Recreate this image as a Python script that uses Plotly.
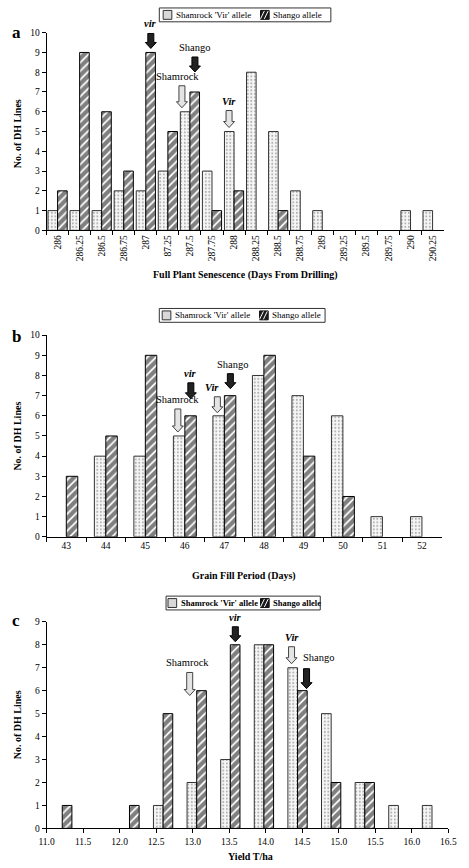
import plotly.graph_objects as go

# ---------------- data ----------------
sen_cats = ["286", "286.25", "286.5", "286.75", "287", "87.25", "287.5", "287.75", "288",
            "288.25", "288.5", "288.75", "289", "289.25", "289.5", "289.75", "290", "290.25"]
sen_shamrock = [1, 1, 1, 2, 2, 3, 6, 3, 5, 8, 5, 2, 1, 0, 0, 0, 1, 1]
sen_shango = [2, 9, 6, 3, 9, 5, 7, 1, 2, 0, 1, 0, 0, 0, 0, 0, 0, 0]

gfp_cats = ["43", "44", "45", "46", "47", "48", "49", "50", "51", "52"]
gfp_shamrock = [0, 4, 4, 5, 6, 8, 7, 6, 1, 1]
gfp_shango = [3, 5, 9, 6, 7, 9, 4, 2, 0, 0]

yield_bins = [11.215, 11.675, 12.135, 12.595, 13.055, 13.515, 13.975, 14.435, 14.895, 15.355, 15.815, 16.275]
yield_shamrock = [0, 0, 0, 1, 2, 3, 8, 7, 5, 2, 1, 1]
yield_shango = [1, 0, 1, 5, 6, 8, 8, 6, 2, 2, 0, 0]

legend_names = ["Shamrock 'Vir' allele", "Shango allele"]

# ---------------- layout helpers ----------------
W, H = 469, 868
FONT = "Liberation Serif"


def px_x(p):
    return p / W


def px_y(p):
    return 1 - p / H


def nz(vals):
    return [v if v else None for v in vals]


pat_sham = dict(shape=".", fgcolor="#6a6a6a", bgcolor="#f6f6f6", size=3.5, solidity=0.25)
pat_shan = dict(shape="/", fgcolor="#000000", bgcolor="#ffffff", size=6, solidity=0.7)

fig = go.Figure()

panels = [
    (sen_cats, sen_shamrock, sen_shango, "", 0.435),
    (gfp_cats, gfp_shamrock, gfp_shango, "2", 0.29),
    (yield_bins, yield_shamrock, yield_shango, "3", 0.132),
]
for xs, sham, shan, sfx, bw in panels:
    fig.add_trace(go.Bar(x=xs, y=nz(sham), name=legend_names[0], width=bw, offset=-bw,
                         marker=dict(pattern=pat_sham, line=dict(color="#333", width=1)),
                         xaxis="x" + sfx, yaxis="y" + sfx, showlegend=False))
    fig.add_trace(go.Bar(x=xs, y=nz(shan), name=legend_names[1], width=bw, offset=0,
                         marker=dict(pattern=pat_shan, line=dict(color="#000", width=1)),
                         xaxis="x" + sfx, yaxis="y" + sfx, showlegend=False))

axis_common = dict(showline=True, linecolor="black", linewidth=1, ticks="outside",
                   ticklen=4, tickcolor="black", showgrid=False, zeroline=False,
                   tickfont=dict(family=FONT, size=9.5, color="black"))

layout = dict(
    width=W, height=H, margin=dict(l=0, r=0, t=0, b=0),
    paper_bgcolor="white", plot_bgcolor="white", showlegend=False,
    font=dict(family=FONT, color="black"),
    xaxis=dict(domain=[px_x(40), px_x(452)], anchor="y", type="category",
               tickson="boundaries", tickangle=-90, range=[-0.5, 17.5], **axis_common),
    yaxis=dict(domain=[px_y(228), px_y(28)], anchor="x", range=[0, 10], dtick=1, **axis_common),
    xaxis2=dict(domain=[px_x(40), px_x(450)], anchor="y2", type="category",
                tickson="boundaries", tickangle=0, range=[-0.5, 9.5], **axis_common),
    yaxis2=dict(domain=[px_y(538), px_y(334)], anchor="x2", range=[0, 10], dtick=1, **axis_common),
    xaxis3=dict(domain=[px_x(40), px_x(457)], anchor="y3", range=[11, 16.5], dtick=0.5,
                tickformat=".1f", **axis_common),
    yaxis3=dict(domain=[px_y(833), px_y(624)], anchor="x3", range=[0, 9], dtick=1, **axis_common),
)
fig.update_layout(**layout)

annotations = []
shapes = []

# panel letters
for letter, ypx in [("a", 28), ("b", 335), ("c", 623)]:
    annotations.append(dict(text="<b>%s</b>" % letter, x=px_x(2), y=px_y(ypx), xref="paper", yref="paper",
                            xanchor="left", yanchor="middle", showarrow=False,
                            font=dict(family=FONT, size=17, color="black")))

# y titles
for ymid in [130, 436, 728]:
    annotations.append(dict(text="<b>No. of DH Lines</b>", x=px_x(10), y=px_y(ymid), xref="paper",
                            yref="paper", textangle=-90, showarrow=False, xanchor="center",
                            yanchor="middle", font=dict(family=FONT, size=10, color="black")))

# x titles
for txt, xmid, ypx in [("Full Plant Senescence (Days From Drilling)", 246, 273),
                       ("Grain Fill Period (Days)", 245, 578),
                       ("Yield T/ha", 252, 861)]:
    annotations.append(dict(text="<b>%s</b>" % txt, x=px_x(xmid), y=px_y(ypx), xref="paper",
                            yref="paper", showarrow=False, xanchor="center", yanchor="middle",
                            font=dict(family=FONT, size=10, color="black")))


# manual legends
def add_legend(x0, x1, y0, y1, sym1, sym2, bold=False, size=9):
    shapes.append(dict(type="rect", xref="paper", yref="paper", x0=px_x(x0), x1=px_x(x1),
                       y0=px_y(y1), y1=px_y(y0), line=dict(color="#333", width=1),
                       fillcolor="white", layer="above"))
    ym = (y0 + y1) / 2
    shapes.append(dict(type="rect", xref="paper", yref="paper", x0=px_x(sym1), x1=px_x(sym1 + 9),
                       y0=px_y(ym + 4.5), y1=px_y(ym - 4.5), line=dict(color="#333", width=1),
                       fillcolor="#d8d8d8", layer="above"))
    shapes.append(dict(type="rect", xref="paper", yref="paper", x0=px_x(sym2), x1=px_x(sym2 + 9),
                       y0=px_y(ym + 4.5), y1=px_y(ym - 4.5), line=dict(color="#111", width=1),
                       fillcolor="#1a1a1a", layer="above"))
    for k in [2, 6]:
        shapes.append(dict(type="line", xref="paper", yref="paper", x0=px_x(sym2 + k - 2),
                           x1=px_x(sym2 + k + 2), y0=px_y(ym + 4), y1=px_y(ym - 4),
                           line=dict(color="white", width=1), layer="above"))
    for t, xp in [(legend_names[0], sym1 + 11), (legend_names[1], sym2 + 11)]:
        annotations.append(dict(text=("<b>%s</b>" % t) if bold else t, x=px_x(xp), y=px_y(ym),
                                xref="paper", yref="paper", xanchor="left", yanchor="middle",
                                showarrow=False, font=dict(family=FONT, size=size, color="black")))


add_legend(157, 335, 3, 17, 161, 262)
add_legend(157, 329, 307, 321, 160, 261)
add_legend(164, 324, 598, 612, 166, 262, bold=True, size=8.5)


def block_arrow(xr, yr, xa, ya, dx, gap, length, style):
    s, h, hl = 3, 5.5, 6
    pts = [(0, gap), (-h, gap + hl), (-s, gap + hl), (-s, gap + length), (s, gap + length),
           (s, gap + hl), (h, gap + hl)]
    path = "M " + " L ".join("%g,%g" % (dx + px, py) for px, py in pts) + " Z"
    if style == "dot":
        fill, lc = "#e4e4e4", "#444"
    else:
        fill, lc = "#222", "#000"
    shapes.append(dict(type="path", xref=xr, yref=yr, xsizemode="pixel", ysizemode="pixel",
                       xanchor=xa, yanchor=ya, path=path, fillcolor=fill,
                       line=dict(color=lc, width=1), layer="above"))


ia = sen_cats.index
ib = gfp_cats.index
# (x axis, y axis, x position, bar value, pixel dx, gap, length, style, label, label dx, label dy, italic)
arrows = [
    ("x", "y", ia("287"), sen_shango[4], 5, 4, 15, "hatch", "vir", 0, 2, True),
    ("x", "y", ia("287.5"), sen_shango[6], 5, 20, 15, "hatch", "Shango", 0, 2, False),
    ("x", "y", ia("287.5"), sen_shamrock[6], -8, 4, 22, "dot", "Shamrock", -4, 2, False),
    ("x", "y", ia("288"), sen_shamrock[8], -5, 4, 17, "dot", "Vir", 0, 2, True),
    ("x2", "y2", ib("46"), gfp_shamrock[3], -7, 4, 23, "dot", "Shamrock", 0, 2, False),
    ("x2", "y2", ib("46"), gfp_shango[3], 6, 17, 16, "hatch", "vir", 0, 2, True),
    ("x2", "y2", ib("47"), gfp_shamrock[4], -7, 3, 16, "dot", "Vir", -5, 2, True),
    ("x2", "y2", ib("47"), gfp_shango[4], 6, 7, 15, "hatch", "Shango", 3, 2, False),
    ("x3", "y3", yield_bins[4], yield_shamrock[4], -7, 87, 23, "dot", "Shamrock", -2, 2, False),
    ("x3", "y3", yield_bins[5], yield_shango[5], 5, 3, 15, "hatch", "vir", 0, 2, True),
    ("x3", "y3", yield_bins[7], yield_shamrock[7], -6, 4, 17, "dot", "Vir", 0, 2, True),
    ("x3", "y3", yield_bins[7], yield_shango[7], 9, 2, 20, "hatch", "Shango", 12, 4, False),
]
for xr, yr, xa, ya, dx, gap, length, style, label, ldx, ldy, ital in arrows:
    block_arrow(xr, yr, xa, ya, dx, gap, length, style)
    txt = "<b><i>%s</i></b>" % label if ital else label
    annotations.append(dict(text=txt, x=xa, y=ya, xref=xr, yref=yr, xshift=dx + ldx,
                            yshift=gap + length + ldy, xanchor="center", yanchor="bottom",
                            showarrow=False,
                            font=dict(family=FONT, size=10.5, color="black")))

fig.update_layout(annotations=annotations, shapes=shapes)
fig.write_html("out.html", config={"displayModeBar": False},
               post_script="document.body.style.margin='0';document.body.style.padding='0';")
